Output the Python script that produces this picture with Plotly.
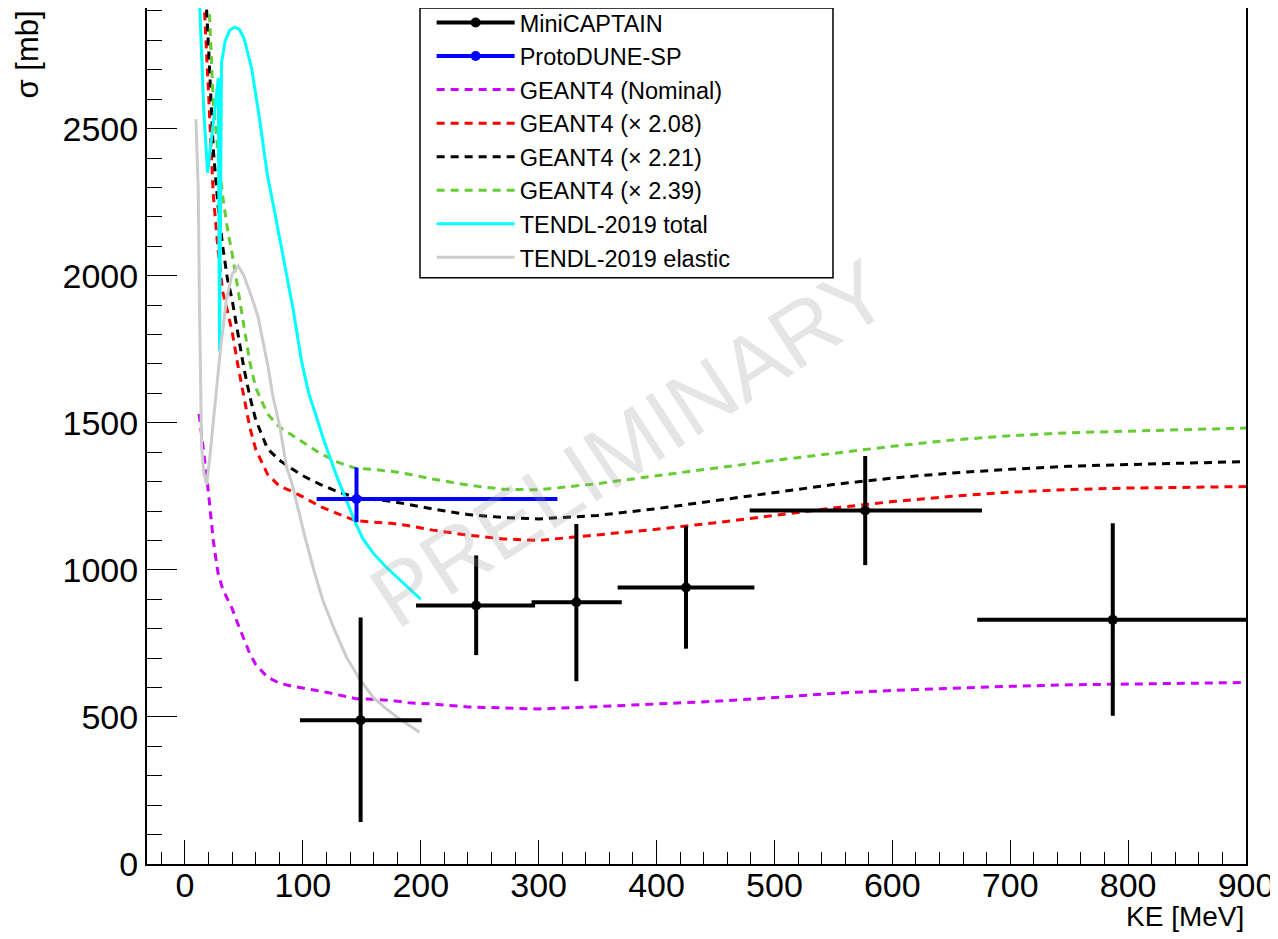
import plotly.graph_objects as go

# ---------------- data ----------------
# MiniCAPTAIN measurements
mc_ke = [149, 247, 332, 425, 577, 787]
mc_ke_lo = [97.5, 196, 294, 367, 479, 672]
mc_ke_hi = [200.8, 297, 370.5, 483, 676, 900]
mc_xs = [489, 879, 890, 940, 1202, 830]
mc_xs_lo = [143, 710, 621, 732, 1016, 504]
mc_xs_hi = [838, 1049, 1156, 1148, 1387, 1158]

# ProtoDUNE-SP measurement
pd_ke = [145.5]
pd_ke_lo = [111.7]
pd_ke_hi = [315.9]
pd_xs = [1241]
pd_xs_lo = [1162]
pd_xs_hi = [1348]

# GEANT4 curves (common KE grid)
g4_ke = [12, 16, 20, 24, 28, 32, 36, 40, 45, 50, 55, 60, 70, 80, 90, 100, 115, 130,
         145, 160, 175, 190, 210, 240, 270, 300, 350, 400, 450, 500, 550, 600, 650,
         700, 750, 800, 850, 900]
g4_nominal = [1530, 1400, 1260, 1100, 990, 935, 900, 868, 815, 765, 715, 678, 635, 615,
              605, 598, 588, 575, 562, 560, 556, 548, 544, 534, 530, 527, 535, 543, 553,
              566, 580, 590, 598, 604, 609, 612, 614, 617]
g4_x208 = [3180, 2950, 2620, 2276, 2090, 1945, 1880, 1810, 1693, 1590, 1484, 1410, 1325,
           1285, 1268, 1248, 1215, 1190, 1167, 1162, 1158, 1150, 1135, 1118, 1105, 1100,
           1118, 1138, 1160, 1185, 1210, 1232, 1250, 1264, 1273, 1278, 1281, 1283]
g4_x221 = [3380, 3090, 2780, 2430, 2240, 2100, 1990, 1918, 1800, 1685, 1590, 1510, 1412,
           1373, 1345, 1320, 1290, 1265, 1246, 1240, 1233, 1222, 1207, 1188, 1178, 1173,
           1185, 1208, 1235, 1263, 1290, 1312, 1329, 1342, 1352, 1358, 1363, 1368]
g4_x239 = [3650, 3350, 2960, 2590, 2420, 2270, 2160, 2075, 1952, 1830, 1706, 1620, 1530,
           1486, 1460, 1434, 1395, 1365, 1345, 1341, 1335, 1325, 1309, 1288, 1274, 1272,
           1293, 1320, 1347, 1372, 1396, 1420, 1441, 1456, 1466, 1472, 1477, 1482]

# TENDL-2019 total
tendl_tot_ke = [12.2, 14, 16, 19.2, 22, 25, 28.3, 29.3, 30.3, 31, 34, 38, 42, 46, 50,
                56.5, 63, 70, 75, 80, 86, 92, 98.8, 105, 111.7, 117, 123, 130, 137, 144,
                151, 160, 171, 185, 197.6, 200]
tendl_tot_xs = [2950, 2750, 2560, 2350, 2449, 2556, 2672, 1745, 2550, 2723, 2797, 2834,
                2845, 2838, 2808, 2706, 2540, 2340, 2240, 2130, 2005, 1880, 1711, 1600,
                1518, 1450, 1382, 1305, 1236, 1165, 1105, 1055, 1008, 955, 906, 900]

# TENDL-2019 elastic
tendl_el_ke = [9.3, 10.3, 11.3, 12.3, 13.2, 14.1, 16, 18.4, 21, 24, 27, 30, 35, 40, 45.2,
               50, 57.7, 62, 70.6, 74.6, 80.6, 86.2, 91, 101.8, 110, 117, 127, 137, 148,
               159.5, 170, 180, 190, 199]
tendl_el_xs = [2532, 2410, 2288, 1900, 1600, 1420, 1330, 1290, 1380, 1500, 1630, 1745,
               1915, 2005, 2033, 2000, 1914, 1860, 1688, 1590, 1484, 1349, 1290, 1111, 990,
               896, 795, 703, 630, 567, 530, 499, 472, 448]

x_ticks = [0, 100, 200, 300, 400, 500, 600, 700, 800, 900]
y_ticks = [0, 500, 1000, 1500, 2000, 2500]

# ---------------- figure ----------------
FONT = "Liberation Sans, Arial, Helvetica, sans-serif"
DASH = "8px,6px"

fig = go.Figure()

curves = [
    (g4_ke, g4_nominal, "#cc00ff", "dash"),
    (g4_ke, g4_x208, "#ff0000", "dash"),
    (g4_ke, g4_x221, "#000000", "dash"),
    (g4_ke, g4_x239, "#66cc33", "dash"),
    (tendl_tot_ke, tendl_tot_xs, "#00ffff", "solid"),
    (tendl_el_ke, tendl_el_xs, "#cccccc", "solid"),
]
for xs, ys, col, style in curves:
    fig.add_trace(go.Scatter(
        x=xs, y=ys, mode="lines", showlegend=False, hoverinfo="skip",
        line=dict(color=col, width=3, dash=(DASH if style == "dash" else "solid")),
    ))


def err_lists(v, lo, hi):
    return [h - c for c, h in zip(v, hi)], [c - l for c, l in zip(v, lo)]


ex_p, ex_m = err_lists(mc_ke, mc_ke_lo, mc_ke_hi)
ey_p, ey_m = err_lists(mc_xs, mc_xs_lo, mc_xs_hi)
fig.add_trace(go.Scatter(
    x=mc_ke, y=mc_xs, mode="markers", showlegend=False,
    marker=dict(color="black", size=10),
    error_x=dict(type="data", symmetric=False, array=ex_p, arrayminus=ex_m,
                 color="black", thickness=4, width=0),
    error_y=dict(type="data", symmetric=False, array=ey_p, arrayminus=ey_m,
                 color="black", thickness=4, width=0),
))

px_p, px_m = err_lists(pd_ke, pd_ke_lo, pd_ke_hi)
py_p, py_m = err_lists(pd_xs, pd_xs_lo, pd_xs_hi)
fig.add_trace(go.Scatter(
    x=pd_ke, y=pd_xs, mode="markers", showlegend=False,
    marker=dict(color="#0000ff", size=10),
    error_x=dict(type="data", symmetric=False, array=px_p, arrayminus=px_m,
                 color="#0000ff", thickness=4, width=0),
    error_y=dict(type="data", symmetric=False, array=py_p, arrayminus=py_m,
                 color="#0000ff", thickness=4, width=0),
))

# legend entries
legend_items = [
    ("MiniCAPTAIN", "black", "solid", 4, True),
    ("ProtoDUNE-SP", "#0000ff", "solid", 4, True),
    ("GEANT4 (Nominal)", "#cc00ff", DASH, 3, False),
    ("GEANT4 (\u00d7 2.08)", "#ff0000", DASH, 3, False),
    ("GEANT4 (\u00d7 2.21)", "#000000", DASH, 3, False),
    ("GEANT4 (\u00d7 2.39)", "#66cc33", DASH, 3, False),
    ("TENDL-2019 total", "#00ffff", "solid", 3, False),
    ("TENDL-2019 elastic", "#cccccc", "solid", 3, False),
]
for name, col, dash, w, mk in legend_items:
    fig.add_trace(go.Scatter(
        x=[None], y=[None], name=name,
        mode="lines+markers" if mk else "lines",
        line=dict(color=col, width=w, dash=dash),
        marker=dict(color=col, size=10),
    ))

# The page body has an 8px margin: the figure is shrunk by 8px and margins shifted.
fig.update_layout(
    width=1270, height=931,
    margin=dict(l=139, r=32, t=0, b=75, pad=0, autoexpand=False),
    paper_bgcolor="white", plot_bgcolor="white",
    font=dict(family=FONT, color="black"),
    showlegend=True,
    legend=dict(
        x=0.259, y=1.0085, xanchor="left", yanchor="top",
        bgcolor="rgba(0,0,0,0)", borderwidth=0,
        font=dict(size=23.5, family=FONT), itemwidth=78, tracegroupgap=0,
    ),
    xaxis=dict(
        range=[-32.2, 900], tickmode="array", tickvals=x_ticks, automargin=False,
        ticks="inside", ticklen=24, tickwidth=1, tickcolor="black",
        minor=dict(dtick=20, tick0=0, ticks="inside", ticklen=12, tickcolor="black"),
        showline=True, mirror=True, linecolor="black", linewidth=2,
        showgrid=False, zeroline=False, ticklabelstandoff=-10,
        tickfont=dict(size=34, family=FONT),
    ),
    yaxis=dict(
        range=[0, 2910], tickmode="array", tickvals=y_ticks, automargin=False,
        ticks="inside", ticklen=30, tickwidth=1, tickcolor="black",
        minor=dict(dtick=100, tick0=0, ticks="inside", ticklen=15, tickcolor="black"),
        showline=True, mirror=True, linecolor="black", linewidth=2,
        showgrid=False, zeroline=False,
        tickfont=dict(size=34, family=FONT),
    ),
    shapes=[dict(type="rect", xref="paper", yref="paper",
                 x0=0.2484, x1=0.6242, y0=0.685, y1=1.0,
                 line=dict(color="black", width=1.5), fillcolor="white", layer="below")],
    annotations=[
        dict(text="\u03c3 [mb]", xref="paper", yref="paper", x=-0.1083, y=0.9457,
             xanchor="center", yanchor="middle", textangle=-90, showarrow=False,
             font=dict(size=31, family=FONT)),
        dict(text="KE [MeV]", xref="paper", yref="paper", x=1.0, y=-0.061,
             xanchor="right", yanchor="middle", showarrow=False,
             font=dict(size=28, family=FONT)),
        dict(text="PRELIMINARY", xref="x", yref="y", x=377, y=1430,
             textangle=-33, showarrow=False,
             font=dict(size=88, family=FONT, color="rgba(150,150,150,0.25)")),
    ],
)

fig.write_html("out.html")
